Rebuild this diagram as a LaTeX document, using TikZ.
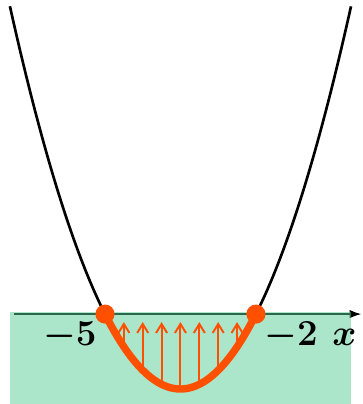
\documentclass[tikz,border=0pt]{standalone}
\usetikzlibrary{arrows.meta}
\definecolor{flame}{RGB}{255,80,0}
\definecolor{mint}{RGB}{88,206,150}
\tikzset{
  >={Latex[length=2.4mm,width=1.7mm]},
  curve/.style={line width=1.5pt,black},
  hot/.style={line width=4.2pt,draw=flame,line cap=round},
  lift/.style={-{Straight Barb[length=1.8mm,width=2.2mm]},line width=1.1pt,draw=flame},
  root/.style={circle,fill=flame,inner sep=0pt,minimum size=3.8mm},
  numlab/.style={font=\fontsize{20}{22}\selectfont\boldmath,anchor=base,inner sep=0pt},
}
\begin{document}
\begin{tikzpicture}[x=1cm,y=0.662cm]
  \useasboundingbox (-7.087,-2.70) rectangle (0.109,9.43);
  % axis, then the shaded half-plane over it
  \coordinate (xl) at (-6.81,0);
  \coordinate (xr) at (0.10,0);
  \draw[->,line width=1.1pt] (xl) -- (xr);
  \fill[mint,opacity=0.5] (-6.89,0.06) rectangle (-0.11,-2.70);
  % parabola
  \draw[curve,domain=-6.89:-5,samples=40] plot (\x,{(\x+5)*(\x+2)});
  \draw[curve,domain=-2:-0.11,samples=40] plot (\x,{(\x+5)*(\x+2)});
  \foreach \i in {1,...,7}{
    \pgfmathsetmacro{\xa}{-5+3*\i/8}
    \draw[lift] (\xa,{(\xa+5)*(\xa+2)}) -- (\xa,-0.24);
  }
  \draw[hot,domain=-5:-2,samples=50] plot (\x,{(\x+5)*(\x+2)});
  \node[root] (r5) at (-5,0) {};
  \node[root] (r2) at (-2,0) {};
  % labels
  \node[numlab] (l5) at (-5.70,-0.95) {$-5$};
  \node[numlab] (l2) at (-1.30,-0.95) {$-2$};
  \node[numlab] (lx) at (-0.24,-0.95) {$x$};
\end{tikzpicture}
\end{document}
